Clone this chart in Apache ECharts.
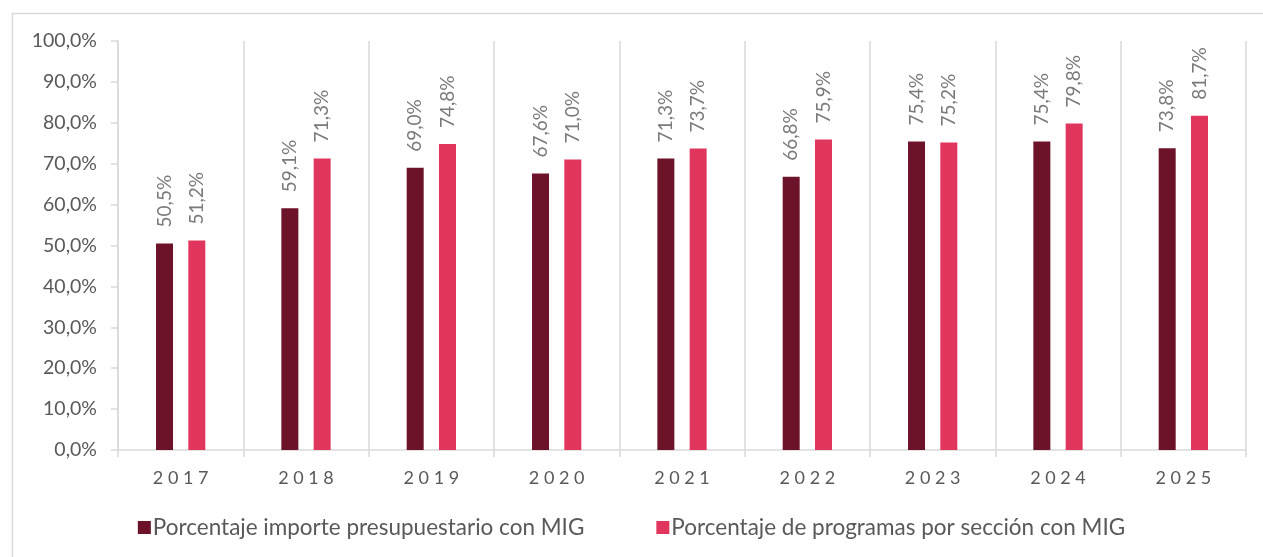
<!DOCTYPE html>
<html>
<head>
<meta charset="utf-8">
<script src="https://cdn.jsdelivr.net/npm/echarts@6/dist/echarts.min.js"></script>
<style>
html,body{margin:0;padding:0;background:#fff;}
#chart{width:1263px;height:557px;}
</style>
</head>
<body>
<div id="chart"></div>
<script>
var categories = ['2017','2018','2019','2020','2021','2022','2023','2024','2025'];
var importeValues = [50.5, 59.1, 69.0, 67.6, 71.3, 66.8, 75.4, 75.4, 73.8];
var programasValues = [51.2, 71.3, 74.8, 71.0, 73.7, 75.9, 75.2, 79.8, 81.7];
var seriesNames = ['Porcentaje importe presupuestario con MIG', 'Porcentaje de programas por sección con MIG'];

var FONT = 'Lato, "Open Sans", sans-serif';
function pct(v){ return v.toFixed(1).replace('.', ',') + '%'; }

var chart = echarts.init(document.getElementById('chart'), null, {renderer:'canvas'});
var labelCfg = {
  show: true, position: 'top', rotate: 90, align: 'left', verticalAlign: 'middle',
  distance: 16, color: '#7a7a7a', fontSize: 19, fontFamily: FONT,
  formatter: function(p){ return pct(p.value); }
};
chart.setOption({
  animation: false,
  graphic: [{
    type: 'rect', left: 10, top: 11, shape: {width: 1270, height: 560},
    style: {fill: 'none', stroke: '#d9d9d9', lineWidth: 1.5}, silent: true
  }],
  grid: {left: 118, right: 17, top: 41, bottom: 107, containLabel: false},
  legend: {
    bottom: 13, left: 'center', itemWidth: 13, itemHeight: 13, itemGap: 72,
    icon: 'rect',
    textStyle: {color: '#595959', fontSize: 22.5, fontFamily: FONT, padding: [0,0,0,-3]},
    data: seriesNames
  },
  xAxis: {
    type: 'category', data: categories,
    axisLine: {lineStyle: {color: '#d9d9d9', width: 1.5}},
    axisTick: {show: true, length: 7, lineStyle: {color: '#d9d9d9', width: 1.5}},
    splitLine: {show: true, lineStyle: {color: '#d9d9d9', width: 1.5}},
    axisLabel: {
      color: '#595959', fontSize: 18, fontFamily: FONT, margin: 19,
      formatter: function(v){ return v.split('').join(' '); }
    }
  },
  yAxis: {
    type: 'value', min: 0, max: 100, interval: 10,
    axisLine: {show: true, lineStyle: {color: '#d9d9d9', width: 1.5}},
    axisTick: {show: true, length: 7, lineStyle: {color: '#d9d9d9', width: 1.5}},
    splitLine: {show: false},
    axisLabel: {
      color: '#595959', fontSize: 19.5, fontFamily: FONT, margin: 21,
      formatter: function(v){ return pct(v); }
    }
  },
  series: [
    {name: seriesNames[0], type: 'bar', data: importeValues, barWidth: 17, barGap: '90%',
     itemStyle: {color: '#6c1229'}, label: labelCfg},
    {name: seriesNames[1], type: 'bar', data: programasValues, barWidth: 17, barGap: '90%',
     itemStyle: {color: '#e0365d'}, label: labelCfg}
  ]
});
</script>
</body>
</html>
